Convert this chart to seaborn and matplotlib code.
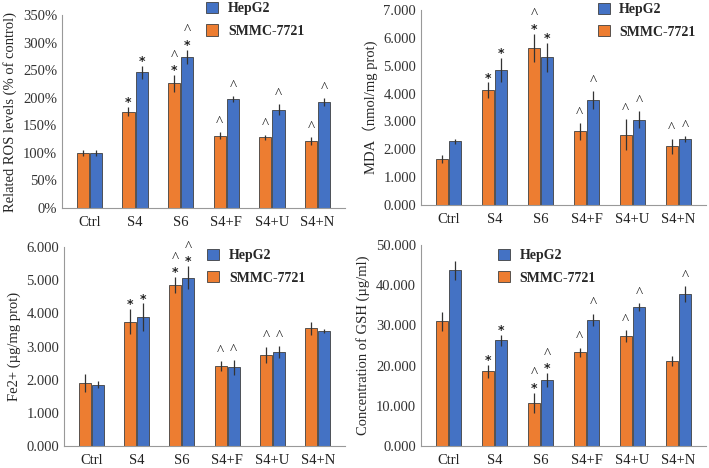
import matplotlib
matplotlib.use("Agg")
import matplotlib.pyplot as plt
import pandas as pd
import seaborn as sns
from matplotlib.ticker import FuncFormatter, MultipleLocator

groups = ["Ctrl", "S4", "S6", "S4+F", "S4+U", "S4+N"]
lines = ["SMMC-7721", "HepG2"]

# ROS (% of control)
ros_smmc = [100, 175, 226, 131, 128, 122]
ros_smmc_err = [6, 8, 15, 6, 5, 7]
ros_hep = [100, 246, 274, 198, 178, 192]
ros_hep_err = [6, 12, 13, 5, 10, 7]
ros_smmc_mark = ["", "*", "*^", "^", "^", "^"]
ros_hep_mark = ["", "*", "*^", "^", "^", "^"]

# MDA
mda_smmc = [1.65, 4.12, 5.65, 2.65, 2.52, 2.10]
mda_smmc_err = [0.15, 0.28, 0.50, 0.30, 0.55, 0.28]
mda_hep = [2.28, 4.85, 5.30, 3.78, 3.06, 2.37]
mda_hep_err = [0.10, 0.42, 0.52, 0.32, 0.30, 0.10]
mda_smmc_mark = ["", "*", "*^", "^", "^", "^"]
mda_hep_mark = ["", "*", "*", "^", "^", "^"]

# Fe2+
fe_smmc = [1.90, 3.75, 4.85, 2.40, 2.75, 3.55]
fe_smmc_err = [0.28, 0.38, 0.25, 0.15, 0.25, 0.20]
fe_hep = [1.85, 3.88, 5.08, 2.37, 2.83, 3.48]
fe_hep_err = [0.10, 0.42, 0.35, 0.22, 0.18, 0.06]
fe_smmc_mark = ["", "*", "*^", "^", "^", ""]
fe_hep_mark = ["", "*", "*^", "^", "^", ""]

# GSH
gsh_smmc = [31.0, 18.6, 10.8, 23.3, 27.4, 21.1]
gsh_smmc_err = [2.3, 1.6, 2.5, 1.2, 1.5, 1.3]
gsh_hep = [43.7, 26.3, 16.5, 31.4, 34.6, 37.7]
gsh_hep_err = [2.4, 1.3, 1.7, 1.5, 0.9, 2.0]
gsh_smmc_mark = ["", "*", "*^", "^", "^", ""]
gsh_hep_mark = ["", "*", "*^", "^", "^", "^"]

sns.set_style("white")
plt.rcParams["font.family"] = ["Liberation Serif", "Noto Sans CJK SC"]
plt.rcParams["font.size"] = 10.5

palette = {"SMMC-7721": "#ED7D31", "HepG2": "#4472C4"}

fig = plt.figure(figsize=(7.09, 4.68), dpi=100)
W, H = 709, 468


def px_axes(x0, y0, x1, y1):
    return fig.add_axes([x0 / W, 1 - y1 / H, (x1 - x0) / W, (y1 - y0) / H])


def panel(ax, smmc, smmc_err, hep, hep_err, smmc_mark, hep_mark,
          ymax, step, fmt, ylabel, leg_pos):
    df = pd.DataFrame({
        "group": groups * 2,
        "line": ["SMMC-7721"] * 6 + ["HepG2"] * 6,
        "value": smmc + hep,
    })
    sns.barplot(data=df, x="group", y="value", hue="line", hue_order=lines,
                palette=palette, ax=ax, width=0.58, gap=0.08, errorbar=None,
                edgecolor="#404040", linewidth=0.6, saturation=1)
    for cont, errs, marks in zip(ax.containers, [smmc_err, hep_err],
                                 [smmc_mark, hep_mark]):
        xs = [p.get_x() + p.get_width() / 2 for p in cont]
        hs = [p.get_height() for p in cont]
        ax.errorbar(xs, hs, yerr=errs, fmt="none", ecolor="#333333",
                    elinewidth=0.9, capsize=0)
        for x, h, e, m in zip(xs, hs, errs, marks):
            top = h + e
            if "*" in m:
                ax.annotate("*", (x, top), xytext=(0, 0.5),
                            textcoords="offset points", ha="center",
                            va="baseline", fontsize=9, fontweight="bold",
                            color="#222222", family="DejaVu Sans")
            if "^" in m:
                dy = 11 if "*" in m else 4.5
                ax.annotate("^", (x, top), xytext=(0, dy),
                            textcoords="offset points", ha="center",
                            va="baseline", fontsize=11, color="#222222")
    ax.set_ylim(0, ymax)
    ax.set_xlim(-0.6, 5.6)
    ax.yaxis.set_major_locator(MultipleLocator(step))
    ax.yaxis.set_major_formatter(FuncFormatter(fmt))
    ax.set_xlabel("")
    ax.set_ylabel(ylabel, fontsize=10.5)
    for s in ["top", "right"]:
        ax.spines[s].set_visible(False)
    for s in ["left", "bottom"]:
        ax.spines[s].set_color("#999999")
        ax.spines[s].set_linewidth(0.8)
    ax.tick_params(axis="y", length=0, labelsize=10.5, colors="#333333")
    ax.tick_params(axis="x", length=0, labelsize=10.5, colors="#222222", pad=6)
    handles, labels = ax.get_legend_handles_labels()
    order = [labels.index("HepG2"), labels.index("SMMC-7721")]
    ax.legend([handles[i] for i in order], [labels[i] for i in order],
              loc="upper left", bbox_to_anchor=leg_pos, frameon=False,
              prop={"weight": "bold", "size": 10}, handlelength=0.85,
              handleheight=0.85, labelspacing=0.65, handletextpad=0.7,
              borderaxespad=0, borderpad=0)


pct = lambda v, p: f"{v:.0f}%"
dec = lambda v, p: f"{v:.3f}"

axA = px_axes(62, 15, 345, 208)
panel(axA, ros_smmc, ros_smmc_err, ros_hep, ros_hep_err, ros_smmc_mark,
      ros_hep_mark, 350, 50, pct, "Related ROS levels (% of control)",
      (0.51, 1.067))

axB = px_axes(421, 10, 706, 205)
panel(axB, mda_smmc, mda_smmc_err, mda_hep, mda_hep_err, mda_smmc_mark,
      mda_hep_mark, 7, 1, dec, "MDA（nmol/mg prot)", (0.62, 1.036))

axC = px_axes(64, 247, 345, 446)
panel(axC, fe_smmc, fe_smmc_err, fe_hep, fe_hep_err, fe_smmc_mark,
      fe_hep_mark, 6, 1, dec, "Fe2+ (µg/mg prot)", (0.51, 0.99))

axD = px_axes(421, 245, 706, 446)
panel(axD, gsh_smmc, gsh_smmc_err, gsh_hep, gsh_hep_err, gsh_smmc_mark,
      gsh_hep_mark, 50, 10, dec, "Concentration of GSH (µg/ml)", (0.27, 0.98))

fig.savefig("out.png", dpi=100)
